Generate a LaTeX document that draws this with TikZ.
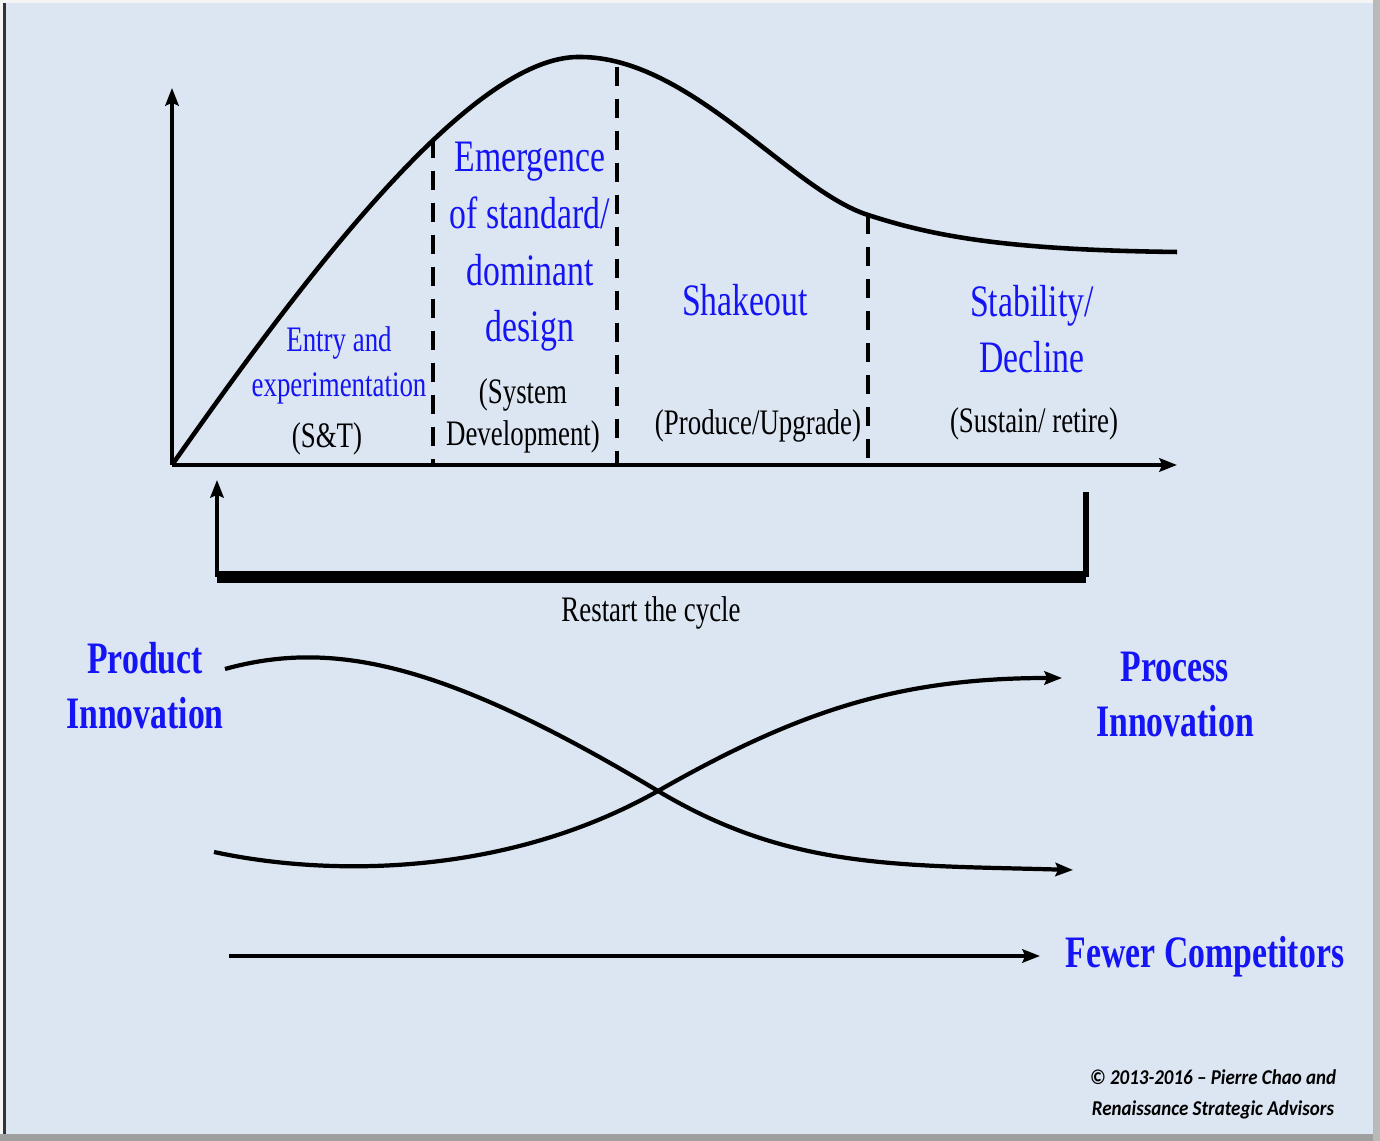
\documentclass[tikz,border=0pt]{standalone}
\usepackage{fontspec}
\setmainfont{Liberation Serif}
\newfontfamily\narrowserif[FakeStretch=0.75]{Liberation Serif}
\newfontfamily\creditfont[FakeStretch=0.9]{Carlito}
\usetikzlibrary{arrows.meta}

\definecolor{slide}{RGB}{220,230,242}
\definecolor{stageblue}{RGB}{20,20,245}

\begin{document}
\begin{tikzpicture}[>={Stealth[length=5pt,width=3.8pt,inset=0.8pt]},
 stagetitle/.style={text=stageblue,font=\narrowserif\fontsize{12.8}{16.2}\selectfont,align=center},
 stagenote/.style={font=\narrowserif\fontsize{10.2}{12}\selectfont,align=center},
 stageblue/.style={text=stageblue,font=\narrowserif\fontsize{10.2}{12.8}\selectfont,align=center},
 driver/.style={text=stageblue,font=\narrowserif\bfseries\fontsize{12.8}{15.8}\selectfont,align=center},
 axisline/.style={line width=1.1pt,->},
 divider/.style={line width=1.1pt,dash pattern=on 5.5pt off 3.6pt},
 trendline/.style={line width=1.2pt,->}]
% slide background with its shadow edges
\fill[gray!8] (0,0) rectangle (13.80,11.41);
\fill[gray!75] (0,0) rectangle (13.80,0.07);
\fill[gray!55] (13.73,0) rectangle (13.80,11.41);
\fill[black!80] (0.03,0.07) rectangle (0.06,11.38);
\fill[slide] (0.06,0.07) rectangle (13.73,11.38);
\useasboundingbox (0,0) rectangle (13.80,11.41);

% axes
\coordinate (O) at (1.72,6.76);
\coordinate (ytop) at (1.72,10.53);
\coordinate (xend) at (11.77,6.76);
\draw[axisline] (O) -- (ytop);
\draw[axisline] (O) -- (xend);

% life cycle curve
\draw[line width=1.3pt] (O) .. controls (3.00,8.58) and (4.70,10.86) .. (5.80,10.84)
  .. controls (6.90,10.84) and (7.90,9.51) .. (8.68,9.26)
  .. controls (9.30,9.06) and (10.00,8.91) .. (11.77,8.89);

% phase boundaries
\foreach \n/\x/\top in {1/4.33/10.02,2/6.17/10.74,3/8.68/9.26} {
  \coordinate (t\n) at (\x,\top);
  \coordinate (b\n) at (\x,6.76);
  \draw[divider] (t\n) -- (b\n);
}

% phase labels (base = last line)
\node[stageblue,anchor=base] (entry) at (3.39,7.44) {Entry and\\experimentation};
\node[stagenote,anchor=base] (st) at (3.27,6.93) {(S\&T)};
\node[stagetitle,anchor=base] (emerge) at (5.30,7.99) {Emergence\\of standard/\\dominant\\design};
\node[stagenote,anchor=base] (sysdev) at (5.23,6.95) {(System\\Development)};
\node[stagetitle,anchor=base] (shake) at (7.45,8.25) {Shakeout};
\node[stagenote,anchor=base] (produce) at (7.58,7.06) {(Produce/Upgrade)};
\node[stagetitle,anchor=base] (stable) at (10.32,7.68) {Stability/\\Decline};
\node[stagenote,anchor=base] (sustain) at (10.34,7.08) {(Sustain/ retire)};

% restart loop
\coordinate (r0) at (10.86,6.49);
\coordinate (r1) at (10.86,5.64);
\coordinate (r2) at (2.17,5.64);
\coordinate (r3) at (2.17,6.61);
\draw[line width=1.6pt] (r0) -- (r1);
\draw[line width=3.4pt] (r1) -- (r2);
\draw[line width=1.1pt,->] (r2) -- (r3);
\node[stagenote,anchor=base] (restart) at (6.51,5.19) {Restart the cycle};

% innovation trends
\node[driver,anchor=base] (product) at (1.45,4.12) {Product\\Innovation};
\node[driver,anchor=base] (process) at (11.75,4.04) {Process\\Innovation};
\coordinate (cross) at (6.58,3.50);
\coordinate (pd0) at (2.25,4.72);
\coordinate (pd1) at (10.73,2.71);
\coordinate (pc0) at (2.14,2.89);
\coordinate (pc1) at (10.62,4.63);
\draw[trendline] (pd0) .. controls (3.30,5.01) and (4.40,4.81) .. (cross)
  .. controls (7.90,2.71) and (9.00,2.76) .. (pd1);
\draw[trendline] (pc0) .. controls (3.20,2.66) and (5.00,2.61) .. (cross)
  .. controls (8.00,4.31) and (9.00,4.63) .. (pc1);

% competitors
\node[driver,anchor=base] (fewer) at (12.05,1.73) {Fewer Competitors};
\coordinate (fw0) at (2.29,1.85);
\coordinate (fw1) at (10.40,1.85);
\draw[trendline] (fw0) -- (fw1);

\node[font=\creditfont\bfseries\itshape\fontsize{6}{9.1}\selectfont,align=center,anchor=base] (credit) at (12.13,0.25) {© 2013-2016 – Pierre Chao and\\Renaissance Strategic Advisors};
\end{tikzpicture}
\end{document}
